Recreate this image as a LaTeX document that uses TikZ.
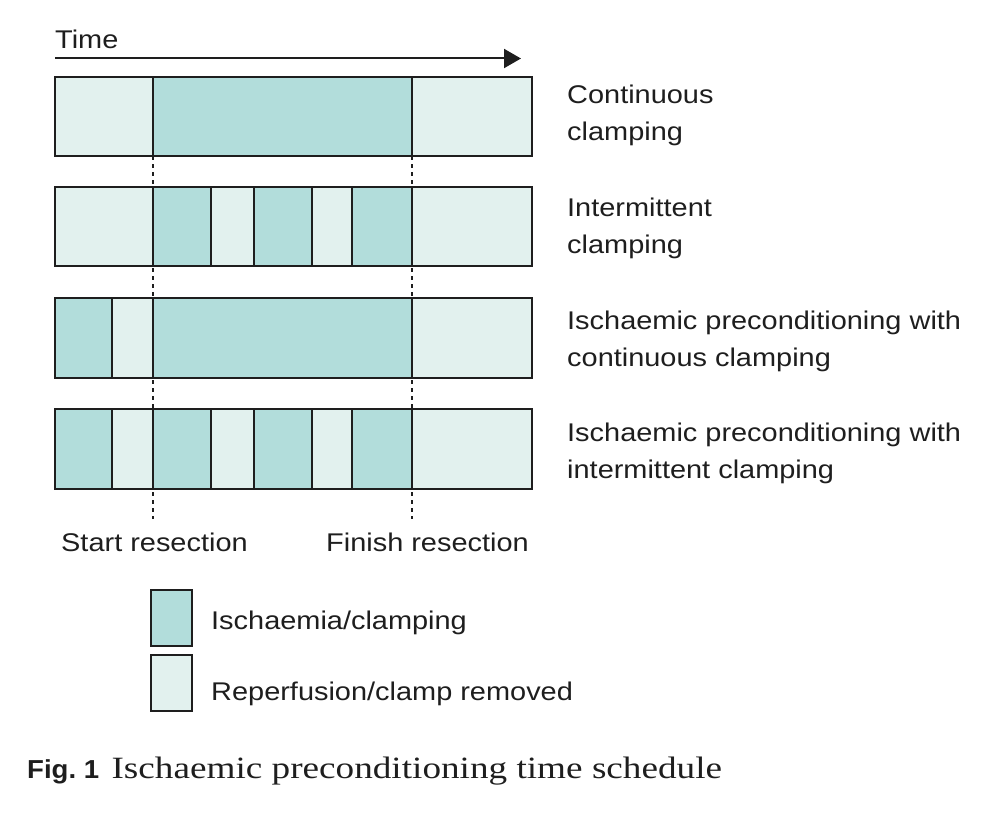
\documentclass[tikz,border=0pt]{standalone}
\usepackage{fontspec}
\setmainfont{Liberation Sans}[FakeStretch=1.13]
\newfontfamily\capserif{Liberation Serif}[FakeStretch=1.2]
\newfontfamily\capsans{Liberation Sans}[FakeStretch=1.06]
\usetikzlibrary{arrows.meta, positioning}
\definecolor{ischfill}{RGB}{178,221,219}
\definecolor{reperfill}{RGB}{226,241,238}
\definecolor{barline}{RGB}{30,30,30}

\begin{document}
\begin{tikzpicture}[
    x=1pt, y=-1pt,
    lbl/.style={inner sep=0pt, align=left, text=barline, font=\fontsize{25.6}{37}\selectfont},
    isch/.style={draw=barline, line width=2pt, fill=ischfill},
    reper/.style={draw=barline, line width=2pt, fill=reperfill},
    keybox/.style={draw=barline, line width=2pt, minimum width=41pt, minimum height=56pt, inner sep=0pt},
    marker/.style={barline, line width=1.6pt, dash pattern=on 4pt off 4pt},
    timearrow/.style={-{Triangle[length=17pt,width=19pt]}, line width=2pt, barline}
  ]
    \useasboundingbox (0,0) rectangle (989,816);
    % time axis
    \node[lbl, anchor=base west] (time) at (55,49) {Time};
    \coordinate (t0) at (55,58.5);
    \coordinate (t1) at (521,58.5);
    \draw[timearrow] (t0) -- (t1);
    % resection markers
    \draw[marker] (153,156) -- (153,519);
    \draw[marker] (412,156) -- (412,519);
    % continuous clamping
    \draw[reper] (55,77) rectangle (153,156);
    \draw[isch] (153,77) rectangle (412,156);
    \draw[reper] (412,77) rectangle (532,156);
    % intermittent clamping
    \draw[reper] (55,187) rectangle (153,266);
    \draw[isch] (153,187) rectangle (210.5,266);
    \draw[reper] (210.5,187) rectangle (253.5,266);
    \draw[isch] (253.5,187) rectangle (311.5,266);
    \draw[reper] (311.5,187) rectangle (351.5,266);
    \draw[isch] (351.5,187) rectangle (412,266);
    \draw[reper] (412,187) rectangle (532,266);
    % preconditioning + continuous
    \draw[isch] (55,298) rectangle (111.5,378);
    \draw[reper] (111.5,298) rectangle (153,378);
    \draw[isch] (153,298) rectangle (412,378);
    \draw[reper] (412,298) rectangle (532,378);
    % preconditioning + intermittent
    \draw[isch] (55,409) rectangle (111.5,489);
    \draw[reper] (111.5,409) rectangle (153,489);
    \draw[isch] (153,409) rectangle (210.5,489);
    \draw[reper] (210.5,409) rectangle (253.5,489);
    \draw[isch] (253.5,409) rectangle (311.5,489);
    \draw[reper] (311.5,409) rectangle (351.5,489);
    \draw[isch] (351.5,409) rectangle (412,489);
    \draw[reper] (412,409) rectangle (532,489);
    % row labels (base = last line)
    \node[lbl, anchor=base west] (cont) at (567,140) {Continuous\\clamping};
    \node[lbl, anchor=base west] (inter) at (567,253) {Intermittent\\clamping};
    \node[lbl, anchor=base west] (ipcont) at (567,366) {Ischaemic preconditioning with\\continuous clamping};
    \node[lbl, anchor=base west] (ipinter) at (567,478.5) {Ischaemic preconditioning with\\intermittent clamping};
    \node[lbl, anchor=base west] (start) at (61,551) {Start resection};
    \node[lbl, anchor=base west] (finish) at (326,551) {Finish resection};
    % key
    \node[keybox, fill=ischfill, anchor=north west] (keyisch) at (150,589) {};
    \node[keybox, fill=reperfill, anchor=north west] (keyreper) at (150,654) {};
    \node[lbl, anchor=base west] (keyischtxt) at (211,629.5) {Ischaemia/clamping};
    \node[lbl, anchor=base west] (keyrepertxt) at (211,700) {Reperfusion/clamp removed};
    % caption
    \node[inner sep=0pt, anchor=base west, text=barline, font=\capsans\bfseries\fontsize{26}{30}\selectfont] (fig) at (27,778) {Fig.~1};
    \node[inner sep=0pt, base right=12pt of fig, text=barline, font=\capserif\fontsize{31}{36}\selectfont] (caption) {Ischaemic preconditioning time schedule};
\end{tikzpicture}
\end{document}
